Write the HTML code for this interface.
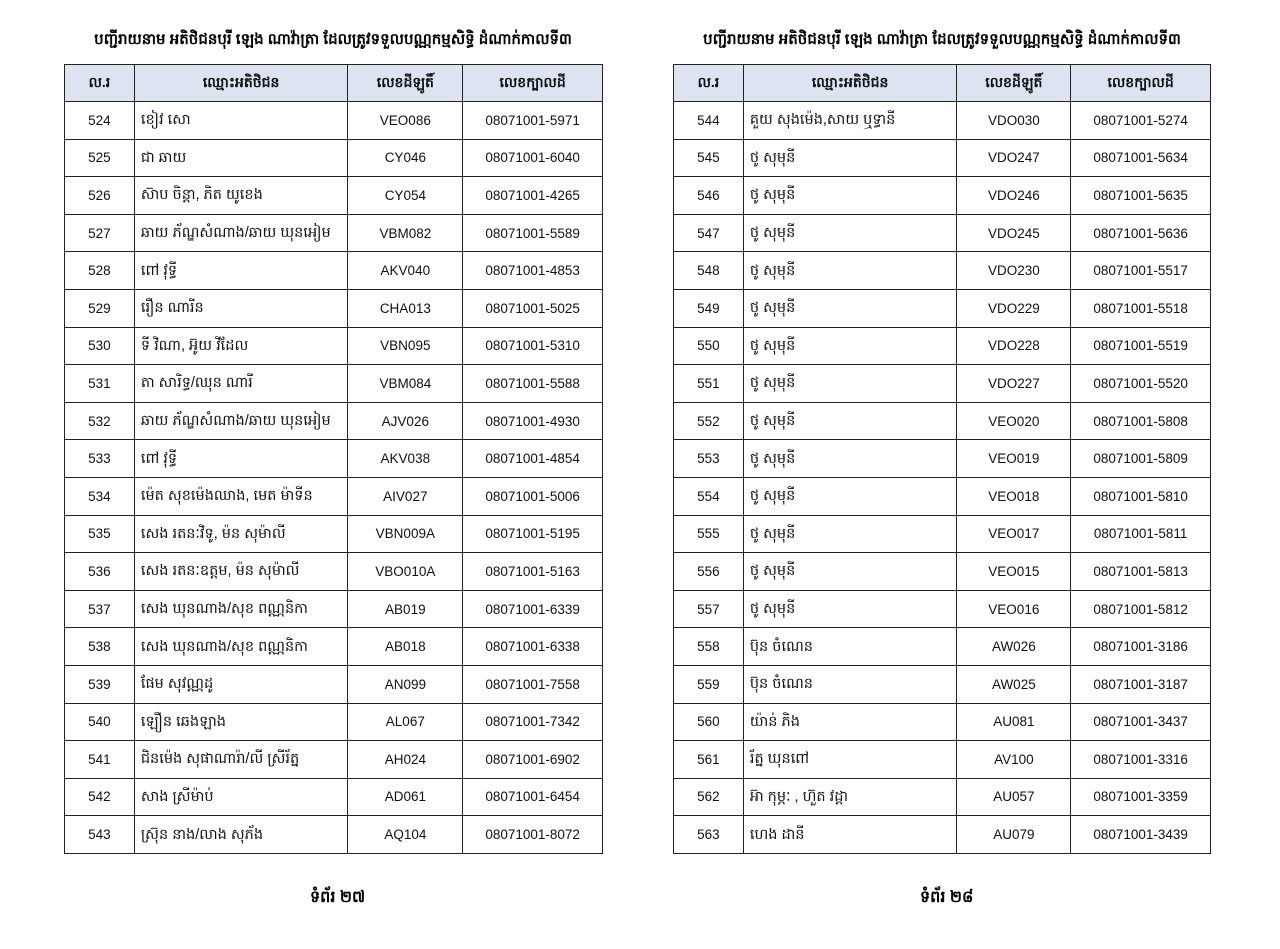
<!DOCTYPE html>
<html><head><meta charset="utf-8"><style>
body{margin:0;width:1280px;height:949px;background:#fff;position:relative;font-family:"Liberation Sans",sans-serif;overflow:hidden}
.t{position:absolute;top:64px;border-collapse:collapse;font-size:13.5px;color:#111}
.t td,.t th{border:1px solid #222;height:37.6px;padding:0;text-align:center;box-sizing:border-box;vertical-align:middle}
.t th{background:#dbe4f0;font-weight:bold;height:37px;font-size:14px}
.t td.n{text-align:left;padding-left:6px;font-size:14.5px;padding-top:3px}
.ti{position:absolute;top:30px;font-weight:bold;font-size:15px;text-align:center}
.pg{position:absolute;top:886px;font-weight:bold;font-size:16px}
</style></head><body>
<div class="ti" style="left:64px;width:538px">បញ្ជីរាយនាម អតិថិជនបុរី ឡេង ណាវ៉ាត្រា ដែលត្រូវទទួលបណ្ណកម្មសិទ្ធិ ដំណាក់កាលទី៣</div>
<div class="ti" style="left:673px;width:538px">បញ្ជីរាយនាម អតិថិជនបុរី ឡេង ណាវ៉ាត្រា ដែលត្រូវទទួលបណ្ណកម្មសិទ្ធិ ដំណាក់កាលទី៣</div>
<table class="t" style="left:64px;width:539px">
<colgroup><col style="width:70px"><col style="width:214px"><col style="width:115px"><col style="width:140px"></colgroup>
<tr><th>ល.រ</th><th>ឈ្មោះអតិថិជន</th><th>លេខដីឡូតិ៍</th><th>លេខក្បាលដី</th></tr>
<tr><td>524</td><td class="n">ខៀវ សោ</td><td>VEO086</td><td>08071001-5971</td></tr>
<tr><td>525</td><td class="n">ជា ឆាយ</td><td>CY046</td><td>08071001-6040</td></tr>
<tr><td>526</td><td class="n">ស៊ាប ចិន្តា, ភិត យូខេង</td><td>CY054</td><td>08071001-4265</td></tr>
<tr><td>527</td><td class="n">ឆាយ ភ័ណ្ឌសំណាង/ឆាយ ឃុនអៀម</td><td>VBM082</td><td>08071001-5589</td></tr>
<tr><td>528</td><td class="n">ពៅ វុទ្ធី</td><td>AKV040</td><td>08071001-4853</td></tr>
<tr><td>529</td><td class="n">រឿន ណារីន</td><td>CHA013</td><td>08071001-5025</td></tr>
<tr><td>530</td><td class="n">ទី វិណា, អ៊ូយ វីដែល</td><td>VBN095</td><td>08071001-5310</td></tr>
<tr><td>531</td><td class="n">តា សារិទ្ធ/ឈុន ណារី</td><td>VBM084</td><td>08071001-5588</td></tr>
<tr><td>532</td><td class="n">ឆាយ ភ័ណ្ឌសំណាង/ឆាយ ឃុនអៀម</td><td>AJV026</td><td>08071001-4930</td></tr>
<tr><td>533</td><td class="n">ពៅ វុទ្ធី</td><td>AKV038</td><td>08071001-4854</td></tr>
<tr><td>534</td><td class="n">ម៉េត សុខម៉េងឈាង, មេត ម៉ាទីន</td><td>AIV027</td><td>08071001-5006</td></tr>
<tr><td>535</td><td class="n">សេង រតនៈវិទូ, ម៉ន សុម៉ាលី</td><td>VBN009A</td><td>08071001-5195</td></tr>
<tr><td>536</td><td class="n">សេង រតនៈឧត្តម, ម៉ន សុម៉ាលី</td><td>VBO010A</td><td>08071001-5163</td></tr>
<tr><td>537</td><td class="n">សេង ឃុនណាង/សុខ ពណ្ណនិកា</td><td>AB019</td><td>08071001-6339</td></tr>
<tr><td>538</td><td class="n">សេង ឃុនណាង/សុខ ពណ្ណនិកា</td><td>AB018</td><td>08071001-6338</td></tr>
<tr><td>539</td><td class="n">ផែម សុវណ្ណដូ</td><td>AN099</td><td>08071001-7558</td></tr>
<tr><td>540</td><td class="n">ឡឿន ឆេងឡាង</td><td>AL067</td><td>08071001-7342</td></tr>
<tr><td>541</td><td class="n">ជិនម៉េង សុផាណារ៉ា/លី ស្រីរ័ត្ន</td><td>AH024</td><td>08071001-6902</td></tr>
<tr><td>542</td><td class="n">សាង ស្រីម៉ាប់</td><td>AD061</td><td>08071001-6454</td></tr>
<tr><td>543</td><td class="n">ស្រ៊ុន នាង/លាង សុភ័ង</td><td>AQ104</td><td>08071001-8072</td></tr>
</table>
<table class="t" style="left:673px;width:538px">
<colgroup><col style="width:70px"><col style="width:214px"><col style="width:114px"><col style="width:140px"></colgroup>
<tr><th>ល.រ</th><th>ឈ្មោះអតិថិជន</th><th>លេខដីឡូតិ៍</th><th>លេខក្បាលដី</th></tr>
<tr><td>544</td><td class="n">គួយ សុងម៉េង,សាយ ឬទ្ធានី</td><td>VDO030</td><td>08071001-5274</td></tr>
<tr><td>545</td><td class="n">ថូ សុមុនី</td><td>VDO247</td><td>08071001-5634</td></tr>
<tr><td>546</td><td class="n">ថូ សុមុនី</td><td>VDO246</td><td>08071001-5635</td></tr>
<tr><td>547</td><td class="n">ថូ សុមុនី</td><td>VDO245</td><td>08071001-5636</td></tr>
<tr><td>548</td><td class="n">ថូ សុមុនី</td><td>VDO230</td><td>08071001-5517</td></tr>
<tr><td>549</td><td class="n">ថូ សុមុនី</td><td>VDO229</td><td>08071001-5518</td></tr>
<tr><td>550</td><td class="n">ថូ សុមុនី</td><td>VDO228</td><td>08071001-5519</td></tr>
<tr><td>551</td><td class="n">ថូ សុមុនី</td><td>VDO227</td><td>08071001-5520</td></tr>
<tr><td>552</td><td class="n">ថូ សុមុនី</td><td>VEO020</td><td>08071001-5808</td></tr>
<tr><td>553</td><td class="n">ថូ សុមុនី</td><td>VEO019</td><td>08071001-5809</td></tr>
<tr><td>554</td><td class="n">ថូ សុមុនី</td><td>VEO018</td><td>08071001-5810</td></tr>
<tr><td>555</td><td class="n">ថូ សុមុនី</td><td>VEO017</td><td>08071001-5811</td></tr>
<tr><td>556</td><td class="n">ថូ សុមុនី</td><td>VEO015</td><td>08071001-5813</td></tr>
<tr><td>557</td><td class="n">ថូ សុមុនី</td><td>VEO016</td><td>08071001-5812</td></tr>
<tr><td>558</td><td class="n">ប៊ុន ចំណេន</td><td>AW026</td><td>08071001-3186</td></tr>
<tr><td>559</td><td class="n">ប៊ុន ចំណេន</td><td>AW025</td><td>08071001-3187</td></tr>
<tr><td>560</td><td class="n">យ៉ាន់ ភិង</td><td>AU081</td><td>08071001-3437</td></tr>
<tr><td>561</td><td class="n">រ័ត្ន ឃុនពៅ</td><td>AV100</td><td>08071001-3316</td></tr>
<tr><td>562</td><td class="n">អ៊ា កុម្ភៈ , ហ៊ួត វដ្ដា</td><td>AU057</td><td>08071001-3359</td></tr>
<tr><td>563</td><td class="n">ហេង ដានី</td><td>AU079</td><td>08071001-3439</td></tr>
</table>
<div class="pg" style="left:310px">ទំព័រ ២៧</div>
<div class="pg" style="left:920px">ទំព័រ ២៨</div>
</body></html>
